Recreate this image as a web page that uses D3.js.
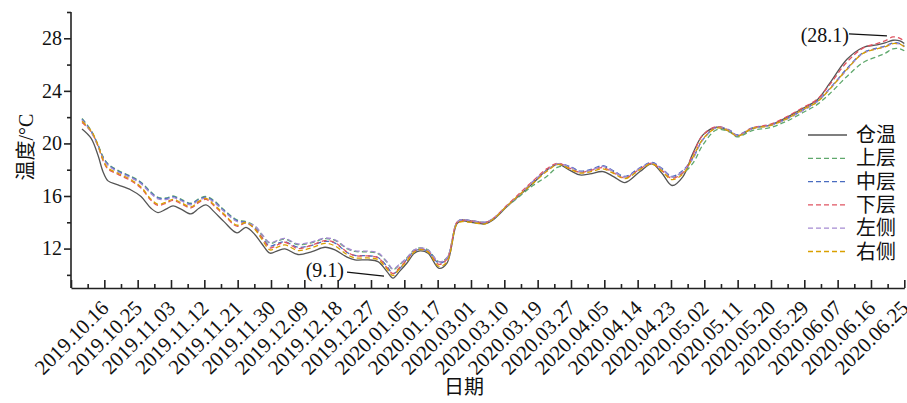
<!DOCTYPE html>
<html><head><meta charset="utf-8">
<script src="https://cdn.jsdelivr.net/npm/d3@7"></script>
<style>
body{margin:0;background:#fff}
svg text{font-family:"Liberation Serif","Times New Roman","Noto Sans CJK SC",serif;fill:#111}
</style></head><body>
<svg id="c" width="907" height="403"></svg>
<script>
// ---- data ----
const tickLabels = ["2019.10.16","2019.10.25","2019.11.03","2019.11.12","2019.11.21","2019.11.30","2019.12.09","2019.12.18","2019.12.27","2020.01.05","2020.01.17","2020.03.01","2020.03.10","2020.03.19","2020.03.27","2020.04.05","2020.04.14","2020.04.23","2020.05.02","2020.05.11","2020.05.20","2020.05.29","2020.06.07","2020.06.16","2020.06.25"];
const seriesNames = ["仓温","上层","中层","下层","左侧","右侧"];
const yTicks = [12,16,20,24,28];
const yMinorTicks = [10,14,18,22,26,30];
const annoLabels = ["(9.1)","(28.1)"];
// sample positions in axis-tick units (0 = axis origin, 1 = first label ...)
const pos = [0.33,0.60,0.81,0.96,1.11,1.41,1.80,2.10,2.40,2.61,2.85,3.06,3.30,3.60,3.84,4.05,4.29,4.59,4.98,5.25,5.52,5.73,5.97,6.21,6.42,6.81,7.23,7.62,7.92,8.28,8.52,8.91,9.21,9.48,9.66,9.87,10.08,10.29,10.47,10.71,11.04,11.28,11.58,11.73,12.06,12.42,12.66,13.08,13.47,13.86,14.28,14.61,14.97,15.27,15.57,15.96,16.29,16.62,17.07,17.43,17.73,18.03,18.36,18.66,18.96,19.38,19.77,19.98,20.46,20.97,21.48,21.96,22.38,22.77,23.28,23.76,24.18,24.42,24.66,24.87,25.0];
const cangwen = [21.1,20.4,19.1,17.85,17.15,16.85,16.46,15.96,15.07,14.74, 15.0,15.25,15.0,14.64,15.07,15.32,14.81,14.05,13.2,13.62, 13.05,12.35,11.65,11.85,11.98,11.55,11.77,12.1,11.9,11.35, 11.14,11.14,11.01,10.25,9.75,10.3,10.9,11.62,11.82,11.65, 10.5,10.9,13.9,14.1,13.98,13.88,14.18,15.19,16.08,16.97, 17.98,18.4,17.95,17.6,17.68,17.86,17.45,17.02,17.86,18.44, 17.73,16.8,17.48,19.26,20.65,21.23,20.9,20.55,21.15,21.4, 21.99,22.68,23.3,24.6,26.4,27.3,27.5,27.65,27.85,27.8,27.6];
const shangceng = [21.9,21.0,19.9,19.0,18.45,17.95,17.5,17.05,16.3,15.9, 15.85,16.0,15.76,15.45,15.8,15.96,15.65,14.95,14.18,14.05, 13.7,13.05,12.4,12.6,12.72,12.3,12.45,12.75,12.62,12.0, 11.78,11.75,11.62,10.95,10.4,10.8,11.3,11.88,12.05,11.9, 11.0,11.3,14.0,14.2,14.1,14.0,14.25,15.2,16.0,16.8, 17.5,18.2,18.2,17.85,17.95,18.25,17.85,17.45,18.1,18.5, 18.05,17.45,17.75,18.5,19.9,21.05,20.85,20.5,21.0,21.2, 21.7,22.35,22.95,23.8,25.1,26.15,26.6,26.85,27.2,27.2,27.05];
const zhongceng = [21.85,20.95,19.85,18.95,18.4,17.9,17.45,17.0,16.25,15.85, 15.8,15.95,15.71,15.4,15.75,15.91,15.6,14.9,14.13,14.0, 13.55,12.85,12.2,12.4,12.52,12.1,12.25,12.55,12.42,11.7, 11.48,11.45,11.32,10.65,10.1,10.5,11.2,11.78,11.95,11.8, 10.9,11.2,14.0,14.2,14.1,14.0,14.25,15.25,16.1,17.1, 17.95,18.45,18.25,17.9,18.0,18.3,17.9,17.5,18.15,18.55, 18.1,17.5,17.95,18.9,20.3,21.25,21.0,20.65,21.2,21.4, 21.9,22.55,23.2,24.2,25.7,26.9,27.25,27.4,27.65,27.6,27.4];
const xiaceng = [21.6,20.9,19.8,18.7,18.05,17.65,17.16,16.61,15.67,15.29, 15.45,15.67,15.42,15.09,15.52,15.74,15.26,14.55,13.7,13.95, 13.5,12.85,12.05,12.3,12.48,12.0,12.27,12.6,12.45,11.75, 11.46,11.44,11.31,10.55,10.1,10.6,11.15,11.82,11.97,11.8, 10.8,11.2,14.0,14.15,14.08,13.98,14.28,15.29,16.23,17.15, 18.08,18.5,18.1,17.8,17.93,18.16,17.75,17.37,18.06,18.49, 17.93,17.35,17.78,19.16,20.65,21.28,20.95,20.6,21.2,21.45, 22.04,22.73,23.35,24.5,26.2,27.25,27.6,27.8,28.1,28.0,27.75];
const zuoce = [21.78,20.88,19.78,18.88,18.33,17.83,17.38,16.93,16.18,15.78, 15.73,15.88,15.64,15.33,15.68,15.84,15.53,14.83,14.06,13.95, 13.72,13.1,12.45,12.65,12.77,12.35,12.5,12.8,12.67,12.05, 11.83,11.8,11.67,11.0,10.45,10.85,11.3,11.88,12.05,11.9, 11.0,11.3,14.0,14.2,14.1,14.02,14.28,15.25,16.12,17.1, 17.95,18.45,18.2,17.85,17.95,18.25,17.85,17.45,18.1,18.5, 18.05,17.45,17.9,18.85,20.3,21.2,20.95,20.6,21.15,21.35, 21.85,22.5,23.15,24.15,25.6,26.85,27.2,27.35,27.6,27.55,27.35];
const youce = [21.68,20.98,19.88,18.78,18.13,17.73,17.24,16.69,15.75,15.37, 15.53,15.75,15.5,15.17,15.6,15.82,15.34,14.63,13.78,13.98, 13.45,12.7,11.9,12.13,12.28,11.85,12.07,12.4,12.2,11.55, 11.29,11.29,11.16,10.45,9.95,10.5,11.05,11.72,11.92,11.75, 10.65,11.0,13.9,14.05,13.98,13.88,14.23,15.24,16.13,16.97, 17.88,18.4,18.05,17.75,17.83,18.06,17.7,17.32,18.01,18.44, 17.88,17.25,17.68,18.96,20.35,21.18,20.9,20.55,21.15,21.35, 21.89,22.58,23.15,24.15,25.65,26.85,27.2,27.35,27.6,27.55,27.35];

const seriesValues = [cangwen, shangceng, zhongceng, xiaceng, zuoce, youce];
const colors = ["#555555","#5fa86c","#4a6cc0","#e05462","#a58bd2","#d9a000"];
const dashes = [null,"5,3","5,3","5,3","5,3","5,3"];

// ---- layout ----
const svg = d3.select("#c");
const x = d3.scaleLinear().domain([0, tickLabels.length]).range([71, 904.3]);
const y = d3.scaleLinear().domain([9, 30]).range([288, 12]);

// lines
const line = d3.line().x(d => x(d[0])).y(d => y(d[1])).curve(d3.curveCatmullRom.alpha(0.5));
seriesValues.forEach((vals, i) => {
  const pts = pos.map((p, j) => [p, vals[j]]).filter(d => d[1] != null);
  svg.append("path").attr("d", line(pts)).attr("fill", "none")
    .attr("stroke", colors[i]).attr("stroke-width", 1.3)
    .attr("stroke-dasharray", dashes[i]);
});

// axes
const axisColor = "#222";
const gx = svg.append("g").attr("transform", `translate(0,${y(9)})`);
gx.call(d3.axisBottom(x).tickValues(d3.range(0, tickLabels.length + 1)).tickSize(-8).tickSizeOuter(0)
  .tickFormat(d => d > 0 ? tickLabels[d - 1] : ""));
const gxm = svg.append("g").attr("transform", `translate(0,${y(9)})`);
gxm.call(d3.axisBottom(x).tickValues(d3.range(0.5, tickLabels.length, 1)).tickSize(-4).tickSizeOuter(0).tickFormat(""));
gxm.select(".domain").remove();
gx.selectAll(".tick text").attr("x", 0).attr("y", 0).attr("dy", "0.35em")
  .attr("text-anchor", "end").attr("transform", "translate(0,16) rotate(-45)")
  .style("font-size", "21px");

const gy = svg.append("g").attr("transform", `translate(${x(0)},0)`);
gy.call(d3.axisLeft(y).tickValues(yTicks).tickSize(7).tickSizeOuter(0).tickPadding(2));
const gym = svg.append("g").attr("transform", `translate(${x(0)},0)`);
gym.call(d3.axisLeft(y).tickValues(yMinorTicks).tickSize(4).tickSizeOuter(0).tickFormat(""));
gym.select(".domain").remove();
gy.selectAll(".tick text").style("font-size", "20px");
gy.select(".domain").attr("d", `M0,${y(30)}V${y(9)}`);

svg.selectAll(".domain, .tick line").attr("stroke", axisColor).attr("stroke-width", 1.6);
svg.selectAll(".tick text").attr("fill", "#111").style("font-family", '"Liberation Serif","Times New Roman",serif');

// axis titles
svg.append("text").attr("transform", "translate(26,147) rotate(-90)").attr("text-anchor", "middle")
  .attr("dy", "0.35em").style("font-size", "20px").text("温度/°C");
svg.append("text").attr("x", 464).attr("y", 387).attr("text-anchor", "middle").attr("dy", "0.35em")
  .style("font-size", "20px").text("日期");

// annotations
const iMin = d3.minIndex(cangwen);
const px1 = x(pos[iMin]), py1 = y(cangwen[iMin]);
svg.append("line").attr("x1", px1 - 46).attr("y1", py1 - 6).attr("x2", px1 - 9).attr("y2", py1 - 2)
  .attr("stroke", "#111").attr("stroke-width", 1.2);
svg.append("text").attr("x", px1 - 49).attr("y", py1 - 8).attr("dy", "0.35em").attr("text-anchor", "end")
  .style("font-size", "20px").text(annoLabels[0]);
const iMax = d3.maxIndex(xiaceng);
const px2 = x(pos[iMax]), py2 = y(xiaceng[iMax]);
svg.append("line").attr("x1", px2 - 44).attr("y1", py2 - 3).attr("x2", px2 - 6).attr("y2", py2 - 1)
  .attr("stroke", "#111").attr("stroke-width", 1.2);
svg.append("text").attr("x", px2 - 44).attr("y", py2 - 2).attr("dy", "0.35em").attr("text-anchor", "end")
  .style("font-size", "20px").text(annoLabels[1]);

// legend
const lg = svg.append("g");
seriesNames.forEach((n, i) => {
  const yy = 135 + i * 23.3;
  lg.append("line").attr("x1", 808).attr("x2", 847).attr("y1", yy).attr("y2", yy)
    .attr("stroke", colors[i]).attr("stroke-width", 1.3).attr("stroke-dasharray", dashes[i]);
  lg.append("text").attr("x", 856).attr("y", yy).attr("dy", "0.35em").style("font-size", "20px").text(n);
});
</script>
</body></html>
